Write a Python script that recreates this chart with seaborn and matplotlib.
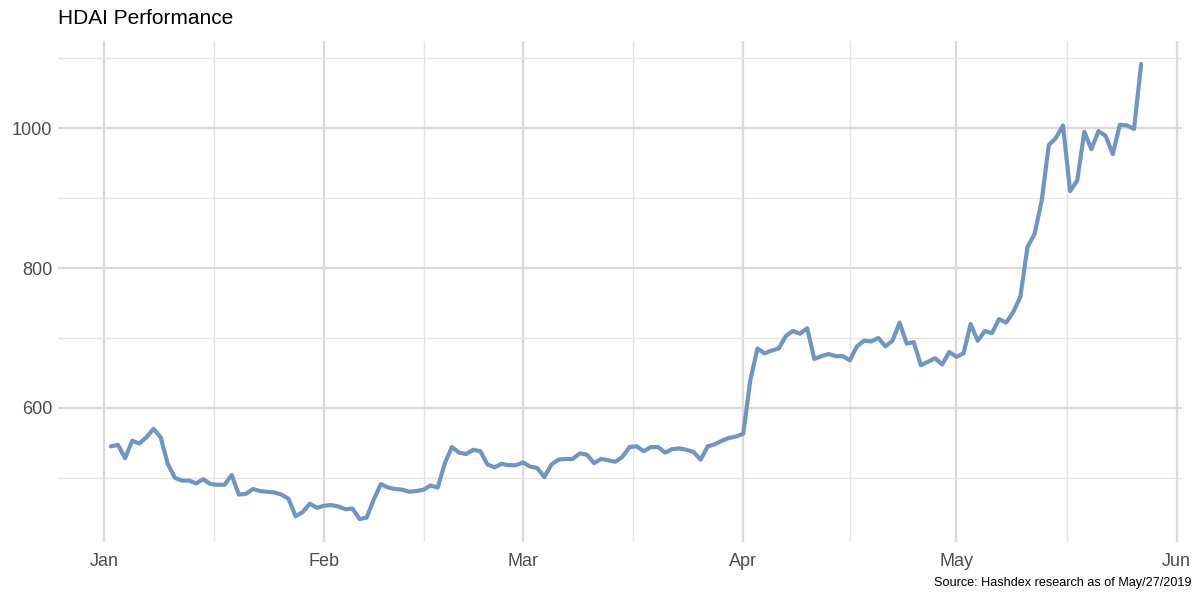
"""
HDAI Performance - daily index level, Jan to May 2019
"""

import numpy as np
import pandas as pd
import matplotlib
matplotlib.use("Agg")
import matplotlib.pyplot as plt
import matplotlib.dates as mdates
import seaborn as sns

# ============================
# Data
# ============================
start_date = "2019-01-02"
end_date = "2019-05-27"

jan = [545, 547, 528, 553, 549, 558, 570, 558, 520, 500, 496, 496, 492, 498, 491,
       490, 490, 504, 476, 477, 484, 481, 480, 479, 476, 470, 445, 451, 463, 457]
feb = [460, 461, 459, 455, 456, 441, 443, 469, 491, 486, 484, 483, 480, 481, 483,
       489, 486, 521, 544, 536, 534, 540, 538, 519, 515, 520, 518, 518]
mar = [522, 516, 514, 501, 519, 526, 527, 527, 535, 533, 521, 527, 525, 523, 530,
       544, 545, 538, 544, 544, 536, 541, 542, 540, 537, 526, 545, 548, 553, 557, 559]
apr = [563, 640, 685, 678, 682, 685, 703, 710, 706, 714, 670, 674, 677, 674, 674,
       668, 688, 696, 695, 700, 688, 696, 722, 692, 694, 661, 666, 671, 662, 680]
may = [673, 678, 720, 696, 710, 707, 727, 722, 737, 759, 830, 849, 896, 976, 986,
       1004, 910, 925, 995, 970, 996, 989, 963, 1005, 1004, 999, 1092]

y_ticks = [600, 800, 1000]
y_minor = [500, 700, 900, 1100]
title = "HDAI Performance"
caption = "Source: Hashdex research as of May/27/2019"

df = pd.DataFrame({
    "date": pd.date_range(start_date, end_date, freq="D"),
    "value": jan + feb + mar + apr + may,
})

# ============================
# Plot
# ============================
sns.set_theme(style="white")
plt.rcParams["font.family"] = ["Liberation Sans", "DejaVu Sans"]

fig = plt.figure(figsize=(12, 6.01), dpi=100)
ax = fig.add_axes([0.048, 0.098, 0.937, 0.834])

sns.lineplot(data=df, x="date", y="value", ax=ax, color="#6f95c7", linewidth=3.0)

ax.set_xlim(pd.Timestamp("2018-12-25 12:00"), pd.Timestamp("2019-06-01 18:00"))
ax.set_ylim(408, 1125)

month_ticks = pd.date_range("2019-01-01", "2019-06-01", freq="MS")
mid_ticks = month_ticks[:-1] + (month_ticks[1:] - month_ticks[:-1]) / 2
ax.set_xticks(month_ticks)
ax.set_xticks(mid_ticks, minor=True)
ax.xaxis.set_major_formatter(mdates.DateFormatter("%b"))
ax.set_yticks(y_ticks)
ax.set_yticks(y_minor, minor=True)

ax.grid(which="major", color="#d9d9d9", linewidth=1.6)
ax.grid(which="minor", color="#e4e4e4", linewidth=1.0)
ax.set_axisbelow(True)
for s in ax.spines.values():
    s.set_visible(False)

ax.tick_params(which="both", length=0)
ax.tick_params(axis="both", labelsize=13, labelcolor="#4d4d4d")
ax.tick_params(axis="x", pad=8)
ax.tick_params(axis="y", pad=4)
ax.set_xlabel("")
ax.set_ylabel("")

fig.text(0.048, 0.97, title, fontsize=15, color="black", ha="left", va="center")
fig.text(0.993, 0.03, caption, fontsize=9.1, color="black", ha="right", va="center")

fig.savefig("out.png", dpi=100)
